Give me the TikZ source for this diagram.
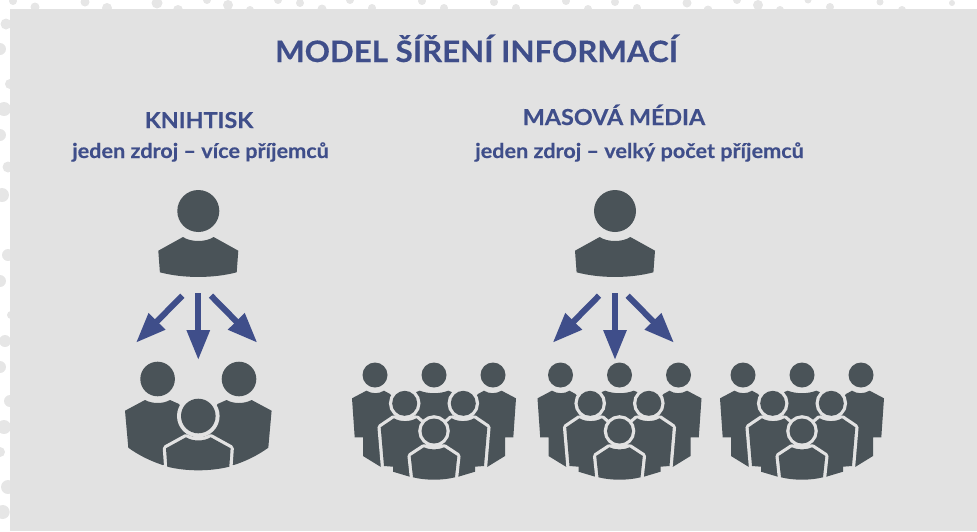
\documentclass[tikz,border=0pt]{standalone}
\usepackage{fontspec}
\setmainfont{Lato}[BoldFeatures={FakeStretch=1.06,FakeBold=0.35}]
\usetikzlibrary{arrows.meta}
\definecolor{panel}{HTML}{E2E2E2}
\definecolor{dotc}{HTML}{E6E6E6}
\definecolor{slate}{HTML}{4A5358}
\definecolor{ink}{HTML}{3F4E8A}
\newcommand{\fsz}[1]{\fontsize{#1}{#1}\selectfont\bfseries}
\tikzset{
  x=1pt,y=-1pt,
  txt/.style={anchor=base,inner sep=0pt,text=ink},
  flow/.style={draw=ink,line width=6pt,-{Triangle[length=30pt,width=22pt,fill=ink]}},
  halo/.style={preaction={draw=panel,line width=6.5pt,line join=round},fill=slate},
  person/.pic={
    \fill[slate] (0,0) circle (21);
    \fill[slate] (-15.3,26) .. controls (-8,31.3) and (8,31.3) .. (15.3,26) -- (40,39.7) -- (38.4,61.3)
      .. controls (15,67.5) and (-15,67.5) .. (-38.4,61.3) -- (-40,39.7) -- cycle;
  },
  trio/.pic={
    \fill[slate] (-40.7,0) circle (17.3) (40.7,0) circle (17.3);
    \fill[slate] (-53.3,21) .. controls (-46,25) and (-35,25) .. (-28.3,21) -- (-19.3,25) -- (-5,50) -- (-5,85) -- (-35.6,86)
      .. controls (-48,82) and (-60,76) .. (-70,68.7) -- (-73.3,31.7) -- cycle;
    \fill[slate] (53.3,21) .. controls (46,25) and (35,25) .. (28.3,21) -- (19.3,25) -- (5,50) -- (5,85) -- (35.6,86)
      .. controls (48,82) and (60,76) .. (70,68.7) -- (73.3,31.7) -- cycle;
    \path[preaction={draw=panel,line width=8pt},fill=slate] (0,37) circle (17.3);
    \path[halo] (-12.3,58.3) .. controls (-6,62.5) and (6,62.5) .. (12.3,58.3) -- (32.3,69.3) -- (31,87.7)
      .. controls (12,92.5) and (-12,92.5) .. (-31,87.7) -- (-32.3,69.3) -- cycle;
  },
  crowd/.pic={
    \fill[slate] (-59,0) circle (12.5) (0,0) circle (12.5) (59,0) circle (12.5);
    \fill[slate] (-67.6,15.7) .. controls (-62,19) and (-55,19) .. (-50,15.7) -- (-44,19) -- (-20,50) -- (-25,95) -- (-53.6,91.7)
      -- (-71,81) -- (-71,62.3) -- (-79.3,62.3) -- (-82,23.3) -- cycle;
    \fill[slate] (67.6,15.7) .. controls (62,19) and (55,19) .. (50,15.7) -- (44,19) -- (20,50) -- (25,95) -- (53.6,91.7)
      -- (71,81) -- (71,62.3) -- (79.3,62.3) -- (82,23.3) -- cycle;
    \fill[slate] (-14.3,15.7) .. controls (-6,19) and (6,19) .. (14.3,15.7) -- (25,20) -- (25,60) -- (-25,60) -- (-25,20) -- cycle;
    \foreach \s in {-1,1}{
      \path[preaction={draw=panel,line width=6.5pt},fill=slate] (\s*29.3,28.3) circle (12.5);
      \path[halo] (\s*40,43.3) .. controls (\s*34,47) and (\s*24,47) .. (\s*17.6,43.3) -- (\s*10,50) -- (\s*5,100) -- (\s*23.3,102)
        -- (\s*41,96.7) -- (\s*41,91.7) -- (\s*50,91) -- (\s*53.3,52.3) -- cycle;
    }
    \path[preaction={draw=panel,line width=6.5pt},fill=slate] (0,56) circle (12.5);
    \path[halo] (-10,72.3) .. controls (-5,75) and (5,75) .. (10,72.3) -- (23.3,81) -- (21,102.3)
      .. controls (8,105.5) and (-8,105.5) .. (-21,102.3) -- (-23.3,81) -- cycle;
  },
}
\begin{document}
\begin{tikzpicture}
\useasboundingbox (0,0) rectangle (977,531);
% dotted paper behind the panel
\foreach \a/\b/\r in {13/1/4,35/7/4.5,85/2/4.5,107/8/5,157/3/5.5,178/10/5,207/0/4,228/5/5,250/10/4,278/0/4,
  300/3/4,322/9/4.5,350/0/4,372/8/4,422/1/4,444/8/4,494/2/4,516/8/4,566/1/4,588/9/4,615/2/4,637/8/4,687/3/4.5,708/10/4.5,
  737/0/4,758/5/5,780/10/4,808/0/3.5,830/7/4,880/2/3.5,902/10/4,952/3/3,
  6/24/5.5,0/49/6,10/84/5,4/109/7,0/135/6,8/167/5.5,2/195/7,8/255/6,0/281/6,11/315/4,5/341/6,0/367/6,10/401/6,4/427/7,0/452/5,8/487/7,2.7/512/7}
  \fill[dotc] (\a,\b) circle (\r);
\fill[panel] (10,9) rectangle (977,531);
% texts
\node[txt] (title) at (476.5,62) {\fsz{29.5}MODEL ŠÍŘENÍ INFORMACÍ};
\node[txt] (h1) at (199,128) {\fsz{22}KNIHTISK};
\node[txt] (s1) at (200.5,158) {\fsz{20.4}jeden zdroj – více příjemců};
\node[txt] (h2) at (614,125) {\fsz{22}MASOVÁ MÉDIA};
\node[txt] (s2) at (639.5,158) {\fsz{20.4}jeden zdroj – velký počet příjemců};
% people
\pic (p1) at (198.3,211) {person};
\pic (p2) at (615,211) {person};
\pic (g1) at (198.3,379) {trio};
\pic (g2) at (434,375) {crowd};
\pic (g3) at (619.5,375) {crowd};
\pic (g4) at (802,375) {crowd};
% arrows
\coordinate (a1s) at (182.3,295.7); \coordinate (a1e) at (136,342.7);
\coordinate (a2s) at (198.3,293);   \coordinate (a2e) at (198.3,360);
\coordinate (a3s) at (211,295.7);   \coordinate (a3e) at (257.3,342.7);
\coordinate (b1s) at (599,295.7);   \coordinate (b1e) at (552.7,342.7);
\coordinate (b2s) at (615,293);     \coordinate (b2e) at (615,360);
\coordinate (b3s) at (627.7,295.7); \coordinate (b3e) at (674,342.7);
\foreach \p/\q in {a1s/a1e,a2s/a2e,a3s/a3e,b1s/b1e,b2s/b2e,b3s/b3e}
  \draw[flow] (\p) -- (\q);
\end{tikzpicture}
\end{document}
